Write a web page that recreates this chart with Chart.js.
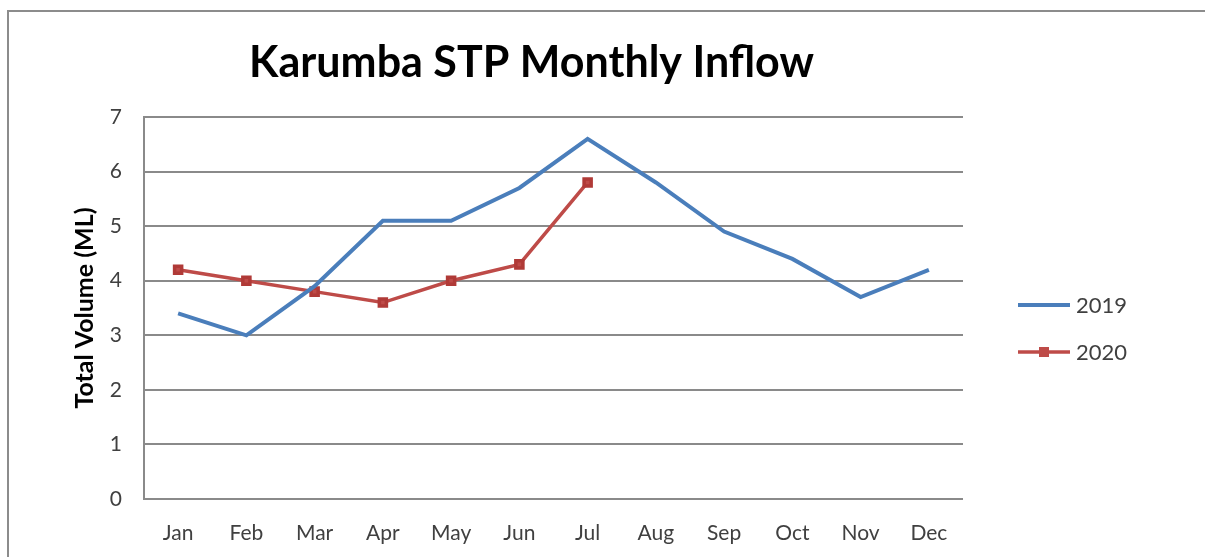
<!DOCTYPE html>
<html>
<head>
<meta charset="utf-8">
<title>Karumba STP Monthly Inflow</title>
<script src="https://cdn.jsdelivr.net/npm/chart.js@4.4.1/dist/chart.umd.min.js"></script>
<style>
  html, body { margin: 0; padding: 0; background: #fff; }
  #frame {
    position: absolute; left: 7px; top: 10px; width: 1300px; height: 700px;
    border-left: 2px solid #8c8c8c; border-top: 2px solid #8c8c8c;
  }
  #wrap { position: absolute; left: 0; top: 0; width: 1205px; height: 557px; }
</style>
</head>
<body>
<div id="frame"></div>
<div id="wrap"><canvas id="inflowChart" width="1205" height="557"></canvas></div>
<script>
const months = ['Jan', 'Feb', 'Mar', 'Apr', 'May', 'Jun', 'Jul', 'Aug', 'Sep', 'Oct', 'Nov', 'Dec'];
const inflow2019 = [3.4, 3.0, 3.9, 5.1, 5.1, 5.7, 6.6, 5.8, 4.9, 4.4, 3.7, 4.2];
const inflow2020 = [4.2, 4.0, 3.8, 3.6, 4.0, 4.3, 5.8];
const yTicks = [0, 1, 2, 3, 4, 5, 6, 7];

const blue = '#4a7ebb';
const red = '#be4b48';
const gridGrey = '#8a8a8a';
const textGrey = '#404040';

// heading sits a little left of the plot centre, like the office chart
const headingPlugin = {
  id: 'heading',
  afterDraw(chart) {
    const {ctx, chartArea} = chart;
    ctx.save();
    ctx.font = 'bold 43px Lato';
    ctx.fillStyle = '#000';
    ctx.textAlign = 'center';
    ctx.textBaseline = 'middle';
    ctx.fillText('Karumba STP Monthly Inflow', (chartArea.left + chartArea.right) / 2 - 22, chartArea.top - 54);
    ctx.restore();
  }
};

// legend to the right: line sample, marker for 2020, label
const sideLegend = {
  id: 'sideLegend',
  afterDraw(chart) {
    const {ctx, chartArea} = chart;
    const x0 = chartArea.right + 55;
    const mid = (chartArea.top + chartArea.bottom) / 2;
    ctx.save();
    ctx.font = '22px Lato';
    ctx.textBaseline = 'middle';
    chart.data.datasets.forEach((ds, i) => {
      const y = mid - 3 + i * 47;
      ctx.strokeStyle = ds.borderColor;
      ctx.lineWidth = ds.borderWidth;
      ctx.beginPath();
      ctx.moveTo(x0, y);
      ctx.lineTo(x0 + 52, y);
      ctx.stroke();
      if (ds.pointRadius > 0) {
        const r = ds.pointRadius;
        ctx.fillStyle = ds.pointBackgroundColor;
        ctx.fillRect(x0 + 26 - r, y - r, 2 * r, 2 * r);
      }
      ctx.fillStyle = textGrey;
      ctx.fillText(ds.label, x0 + 58, y + 1);
    });
    ctx.restore();
  }
};

new Chart(document.getElementById('inflowChart'), {
  type: 'line',
  data: {
    labels: months,
    datasets: [
      {
        label: '2019',
        data: inflow2019,
        borderColor: blue,
        backgroundColor: blue,
        borderWidth: 4,
        pointRadius: 0,
        tension: 0
      },
      {
        label: '2020',
        data: inflow2020,
        borderColor: red,
        backgroundColor: red,
        pointBackgroundColor: red,
        pointBorderColor: '#b03a37',
        borderWidth: 3.5,
        pointStyle: 'rect',
        pointRadius: 5,
        tension: 0
      }
    ]
  },
  options: {
    responsive: false,
    animation: false,
    layout: { padding: { left: 70, right: 242, top: 117, bottom: 0 } },
    plugins: {
      legend: { display: false },
      title: { display: false },
      tooltip: { enabled: false }
    },
    scales: {
      x: {
        offset: true,
        grid: { display: false, drawTicks: false },
        border: { display: false },
        ticks: { color: textGrey, font: { family: 'Lato', size: 21 }, padding: 22 },
        afterFit(scale) { scale.height = 58; }
      },
      y: {
        min: 0,
        max: 7,
        afterBuildTicks(scale) { scale.ticks = yTicks.map(v => ({ value: v })); },
        grid: { color: gridGrey, lineWidth: 2, drawTicks: false },
        border: { display: true, color: gridGrey, width: 2 },
        ticks: { color: textGrey, font: { family: 'Lato', size: 21 }, padding: 22 },
        title: {
          display: true,
          text: 'Total Volume (ML)',
          color: '#000',
          font: { family: 'Lato', size: 25, weight: 'bold' },
          padding: { top: 0, bottom: 0 }
        },
        afterFit(scale) { scale.width = 74; }
      }
    }
  },
  plugins: [headingPlugin, sideLegend]
});
</script>
</body>
</html>
